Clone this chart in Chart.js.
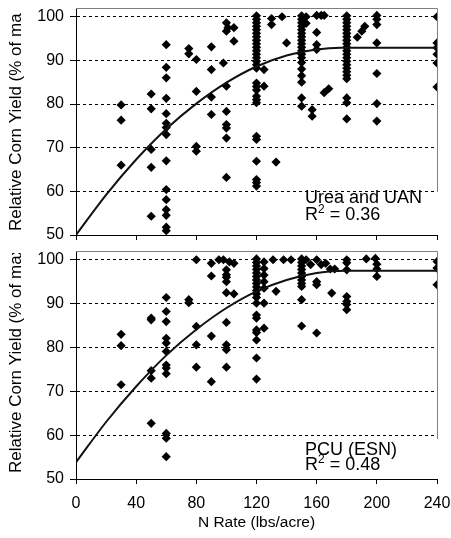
<!DOCTYPE html>
<html>
<head>
<meta charset="utf-8">
<script src="https://cdn.jsdelivr.net/npm/chart.js@4.4.0/dist/chart.umd.min.js"></script>
<style>
    html, body { margin: 0; padding: 0; background: #fff; }
    #wrap { position: relative; width: 451px; height: 538px; }
    .panel { position: absolute; left: 0; width: 451px; }
</style>
</head>
<body>
<div id="wrap">
    <div class="panel" style="top:0;height:243px"><canvas id="ureaChart" width="451" height="243"></canvas></div>
    <div class="panel" style="top:243px;height:295px"><canvas id="esnChart" width="451" height="295"></canvas></div>
</div>
<script>
const xTicks = [0, 40, 80, 120, 160, 200, 240];
const yTicks = [50, 60, 70, 80, 90, 100];
const yTitle = 'Relative Corn Yield (% of max)';
const xTitle = 'N Rate (lbs/acre)';

// Urea and UAN (top panel)
const ureaN = [
    30, 30, 30,
    50, 50, 50, 50, 50,
    60, 60, 60, 60, 60, 60, 60, 60, 60, 60, 60, 60, 60, 60, 60,
    75, 75,
    80, 80, 80, 80,
    90, 90, 90, 90,
    98,
    100, 100, 100, 100, 100, 100, 100, 100,
    101, 105, 105,
    120, 120, 120, 120, 120, 120, 120, 120, 120, 120, 120, 120, 120, 120, 120, 120,
    120, 120, 120, 120, 120, 120, 120, 120, 120, 120, 120, 120,
    125, 125, 130, 130, 133, 137, 140,
    150, 150, 150, 150, 150, 150, 150, 150, 150, 150, 150, 150, 150, 150, 150, 150, 150, 150, 150,
    153, 153, 157, 157, 160, 160, 160, 160, 163, 165, 165, 168,
    180, 180, 180, 180, 180, 180, 180, 180, 180, 180, 180, 180, 180, 180, 180, 180, 180, 180, 180, 180, 180, 180,
    187, 190, 192,
    200, 200, 200, 200, 200, 200, 200,
    240, 240, 240, 240, 240, 240
];
const ureaYield = [
    79.8, 76.3, 66.0,
    82.3, 78.9, 69.6, 65.5, 54.3,
    93.6, 88.4, 86.0, 81.3, 77.8, 75.6, 74.6, 73.0, 67.0, 60.4, 58.1, 55.8, 54.5, 51.8, 51.0,
    92.7, 91.5,
    90.2, 82.9, 70.3, 69.2,
    93.1, 87.9, 81.6, 77.6,
    89.4,
    98.6, 96.7, 84.1, 78.3, 75.3, 74.5, 72.2, 63.2,
    97.5, 97.5, 94.4,
    100.2, 99.4, 98.6, 97.8, 97.0, 96.2, 95.4, 94.6, 93.8, 93.0, 92.2, 91.4, 90.6, 89.8, 89.0, 88.2,
    84.8, 84.0, 83.2, 81.8, 81.0, 80.3, 72.6, 71.9, 66.9, 62.7, 62.0, 61.2,
    87.9, 84.1, 99.6, 98.2, 66.7, 100.0, 94.0,
    100.2, 99.4, 98.6, 97.8, 97.0, 96.2, 95.4, 94.6, 93.8, 93.0, 92.2, 91.4, 90.6, 89.5, 88.0, 86.5, 85.0, 81.4, 79.5,
    100.0, 98.5, 78.7, 77.2, 100.3, 96.4, 93.6, 92.5, 100.3, 100.3, 82.6, 83.5,
    100.2, 99.4, 98.6, 97.8, 97.0, 96.2, 95.4, 94.6, 93.8, 93.0, 92.2, 91.4, 90.6, 89.8, 89.0, 88.2, 87.4, 86.6, 85.8, 81.4, 80.3, 76.6,
    95.3, 96.7, 97.8,
    100.3, 99.4, 98.2, 94.0, 87.0, 80.1, 76.1,
    100.0, 94.0, 92.9, 91.4, 89.4, 83.9
];
// fitted quadratic-plateau line
const ureaCurveN = [0, 20, 40, 60, 80, 100, 120, 140, 160, 176, 240];
const ureaCurveY = [50.0, 59.2, 67.3, 74.3, 80.1, 84.9, 88.6, 91.1, 92.5, 92.9, 92.9];

// PCU (ESN) (bottom panel)
const esnN = [
    30, 30, 30,
    50, 50, 50, 50, 50,
    60, 60, 60, 60, 60, 60, 60, 60, 60, 60, 60, 60,
    75, 75,
    80, 80, 80, 80,
    90, 90, 90, 90,
    95, 98,
    100, 100, 100, 100, 100, 100, 100, 100, 100,
    102, 105, 105,
    120, 120, 120, 120, 120, 120, 120, 120, 120, 120, 120, 120, 120, 120, 120, 120, 120, 120, 120, 120,
    125, 125, 125, 125, 125, 125, 125,
    131, 133, 138, 143,
    150, 150, 150, 150, 150, 150, 150, 150, 150, 150, 150,
    153, 156, 160, 160, 160, 160, 163, 166, 169, 172, 170,
    180, 180, 180, 180, 180, 180, 180,
    193, 199, 200, 200, 200,
    240, 240, 240
];
const esnYield = [
    83.0, 80.4, 71.5,
    86.7, 86.3, 74.7, 73.0, 62.7,
    91.4, 88.2, 85.9, 82.1, 81.0, 79.1, 76.0, 75.3, 74.0, 60.4, 59.3, 55.1,
    90.9, 90.2,
    100.0, 84.8, 80.6, 75.5,
    99.2, 96.3, 82.6, 72.2,
    100.0, 100.0,
    97.7, 96.6, 96.0, 95.0, 92.5, 85.7, 80.6, 79.5, 75.5,
    99.5, 99.2, 92.2,
    100.2, 99.4, 98.6, 97.8, 97.0, 96.2, 95.4, 94.6, 93.8, 93.0, 92.2, 91.4, 90.1, 87.4, 86.7, 84.0, 83.4, 81.7, 77.6, 72.8,
    99.5, 98.0, 96.5, 95.0, 93.5, 90.1, 84.4,
    100.0, 92.8, 100.0, 100.0,
    100.2, 99.4, 98.6, 97.8, 97.0, 96.2, 95.4, 94.6, 93.9, 90.9, 84.9,
    100.0, 98.9, 100.0, 95.0, 94.3, 83.3, 98.9, 99.2, 97.9, 97.9, 92.4,
    100.0, 99.3, 97.7, 91.6, 90.5, 89.8, 88.6,
    100.2, 100.3, 99.0, 97.9, 96.2,
    99.6, 98.1, 94.3
];
const esnCurveN = [0, 20, 40, 60, 80, 100, 120, 140, 160, 179, 240];
const esnCurveY = [53.8, 63.0, 71.1, 78.2, 84.1, 89.0, 92.8, 95.4, 97.0, 97.5, 97.5];

const FONT = "'Liberation Sans', Arial, sans-serif";

// frame, y title (clipped like the original) and the in-plot labels
const panelDeco = {
    id: 'panelDeco',
    beforeDatasetsDraw(chart, args, opts) {
        const { ctx, chartArea: a } = chart;
        ctx.save();
        ctx.strokeStyle = '#808080';
        ctx.lineWidth = 1;
        ctx.beginPath();
        ctx.moveTo(a.left, a.top + 0.5);
        ctx.lineTo(Math.round(a.right) + 0.5, a.top + 0.5);
        ctx.lineTo(Math.round(a.right) + 0.5, opts.frameEnd);
        ctx.stroke();
        ctx.restore();
    },
    afterDraw(chart, args, opts) {
        const ctx = chart.ctx;
        ctx.save();
        ctx.beginPath();
        ctx.rect(0, opts.clipTop, 40, chart.height);
        ctx.clip();
        ctx.translate(21, opts.titleBottom);
        ctx.rotate(-Math.PI / 2);
        ctx.fillStyle = '#000';
        ctx.font = '17px ' + FONT;
        ctx.textAlign = 'left';
        ctx.textBaseline = 'alphabetic';
        ctx.fillText(yTitle, 0, 0);
        ctx.restore();

        ctx.save();
        ctx.fillStyle = '#000';
        ctx.textAlign = 'left';
        ctx.textBaseline = 'alphabetic';
        ctx.font = '18px ' + FONT;
        ctx.fillText(opts.label, opts.labelX, opts.line1);
        ctx.fillText('R', opts.labelX, opts.line2);
        let x = opts.labelX + ctx.measureText('R').width;
        ctx.font = '12px ' + FONT;
        ctx.fillText('2', x, opts.line2 - 7);
        x += ctx.measureText('2').width;
        ctx.font = '18px ' + FONT;
        ctx.fillText(' = ' + opts.r2, x, opts.line2);
        ctx.restore();
    }
};

function buildChart(id, nRates, yields, curveN, curveY, deco, bottomPanel) {
    const pts = nRates.map((n, i) => ({ x: n, y: yields[i] }));
    const curve = curveN.map((n, i) => ({ x: n, y: curveY[i] }));
    return new Chart(document.getElementById(id), {
        type: 'scatter',
        data: {
            datasets: [{
                type: 'line',
                data: curve,
                borderColor: '#111',
                borderWidth: 2,
                pointRadius: 0,
                fill: false,
                cubicInterpolationMode: 'monotone'
            }, {
                data: pts,
                pointStyle: 'rectRot',
                pointRadius: 4.6,
                backgroundColor: '#000',
                borderColor: '#000',
                borderWidth: 0
            }]
        },
        options: {
            responsive: false,
            animation: false,
            events: [],
            layout: { padding: { top: 8, right: 14, left: 0, bottom: 0 } },
            plugins: {
                legend: { display: false },
                tooltip: { enabled: false },
                panelDeco: deco
            },
            scales: {
                x: {
                    type: 'linear',
                    min: 0,
                    max: 240,
                    afterBuildTicks: s => { s.ticks = xTicks.map(v => ({ value: v })); },
                    afterFit: s => { s.height = bottomPanel ? 59 : 8; s.paddingLeft = 0; s.paddingRight = 0; },
                    grid: { drawOnChartArea: false, drawTicks: true, tickLength: 5, tickColor: '#000' },
                    border: { color: '#000', width: 1 },
                    ticks: { display: bottomPanel, color: '#000', padding: 10, maxRotation: 0, font: { family: FONT, size: 16 } },
                    title: { display: bottomPanel, text: xTitle, color: '#000', padding: { top: 0, bottom: 6 }, font: { family: FONT, size: 15.5 } }
                },
                y: {
                    type: 'linear',
                    min: 50,
                    max: 102,
                    afterBuildTicks: s => { s.ticks = yTicks.map(v => ({ value: v })); },
                    afterFit: s => { s.width = 76; s.paddingTop = 0; s.paddingBottom = 0; },
                    grid: {
                        color: c => (c.tick && c.tick.value === 50) ? 'rgba(0,0,0,0)' : '#000',
                        lineWidth: 1,
                        tickColor: '#000',
                        tickLength: 6
                    },
                    border: { color: '#000', width: 1, dash: [3, 3] },
                    ticks: { color: '#000', padding: 6, font: { family: FONT, size: 16 } }
                }
            }
        },
        plugins: [panelDeco]
    });
}

buildChart('ureaChart', ureaN, ureaYield, ureaCurveN, ureaCurveY, {
    frameEnd: 192, clipTop: 13, titleBottom: 231,
    label: 'Urea and UAN', r2: '0.36', labelX: 305, line1: 203, line2: 220
}, false);

buildChart('esnChart', esnN, esnYield, esnCurveN, esnCurveY, {
    frameEnd: 196, clipTop: 10, titleBottom: 230,
    label: 'PCU (ESN)', r2: '0.48', labelX: 305, line1: 212, line2: 226.5
}, true);
</script>
</body>
</html>
